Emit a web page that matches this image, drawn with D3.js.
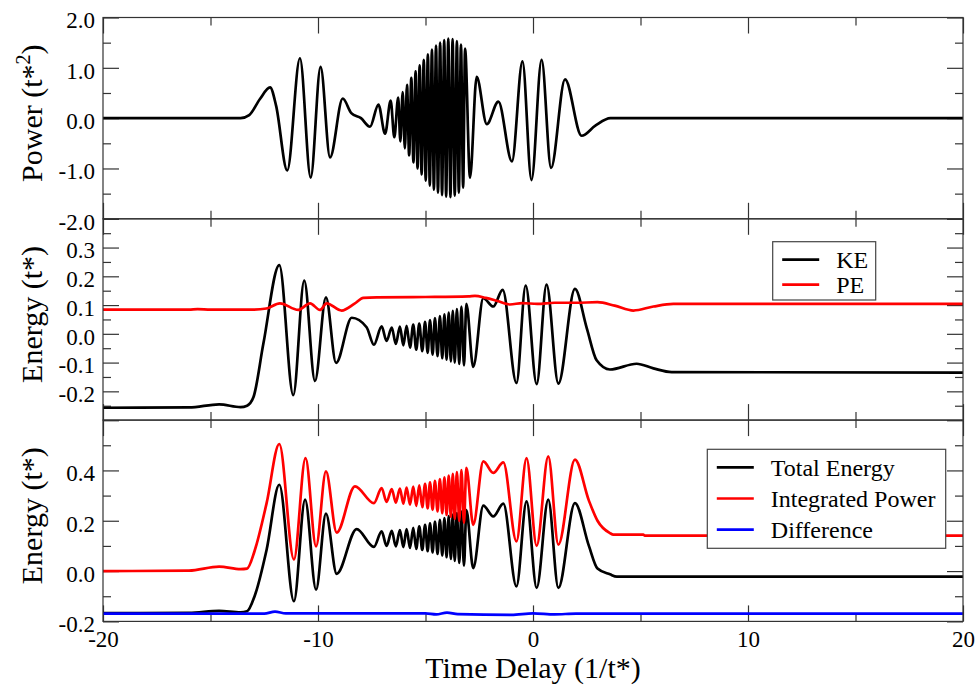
<!DOCTYPE html>
<html lang="en">
<head>
  <meta charset="UTF-8">
  <title>Power and energy vs time delay</title>
  <script src="https://cdn.jsdelivr.net/npm/d3@7"></script>
  <style>
    body { margin: 0; background: #fff; }
    svg text { font-family: "Liberation Serif", "Times New Roman", serif !important; fill: #000; }
  </style>
</head>
<body>
<svg id="chart" width="977" height="686"></svg>
<script>
// values as [time delay, value]
const power = [
  [-20,0],[-16,0],[-13.6,0],[-13.2,0.06],[-12.7,0.38],[-12.23,0.61],[-11.95,0.25],[-11.43,-1.04],
  [-10.84,1.19],[-10.34,-1.18],[-9.88,1.02],[-9.44,-0.78],[-8.85,0.39],[-8.45,0.1],[-8.0,0.0],
  [-7.58,-0.17],[-7.19,0.27],[-6.88,-0.31],[-6.62,0.35],[-6.45,-0.38],[-6.27,0.41],
  [-6.17,-0.46],[-6.06,0.52],[-5.96,-0.60],[-5.86,0.66],[-5.76,-0.74],[-5.66,0.80],[-5.56,-0.88],
  [-5.46,0.93],[-5.37,-1.00],[-5.27,1.05],[-5.18,-1.12],[-5.08,1.16],[-4.99,-1.24],[-4.89,1.27],
  [-4.80,-1.34],[-4.70,1.36],[-4.61,-1.42],[-4.51,1.44],[-4.42,-1.48],[-4.32,1.50],[-4.23,-1.53],
  [-4.13,1.55],[-4.04,-1.56],[-3.94,1.58],[-3.84,-1.57],[-3.74,1.57],[-3.64,-1.54],[-3.54,1.53],
  [-3.45,-1.48],[-3.35,1.46],[-3.25,-1.38],[-3.16,1.38],[-2.93,-1.18],[-2.62,0.82],[-2.15,-0.12],
  [-1.61,0.33],[-0.98,-0.86],[-0.49,1.13],[-0.07,-1.23],[0.40,1.16],[0.84,-0.99],[1.49,0.77],
  [2.26,-0.35],[2.9,-0.15],[3.6,0],[20,0]
];

const kinetic = [
  [-20,-0.257],[-16,-0.256],[-14.6,-0.245],[-13.6,-0.255],[-13.3,-0.25],[-13.0,-0.22],[-12.54,-0.034],
  [-11.8,0.239],[-11.15,-0.213],[-10.64,0.185],[-10.14,-0.164],[-9.63,0.127],[-9.16,-0.101],
  [-8.43,0.056],[-7.74,0.023],[-7.40,-0.038],
  [-7.04,0.026],[-6.81,-0.025],[-6.57,0.022],[-6.38,-0.035],[-6.19,0.025],[-6.03,-0.040],
  [-5.88,0.028],[-5.72,-0.048],[-5.57,0.032],[-5.43,-0.055],[-5.29,0.036],[-5.15,-0.060],
  [-5.02,0.042],[-4.90,-0.066],[-4.79,0.048],[-4.67,-0.072],[-4.56,0.055],[-4.44,-0.078],
  [-4.33,0.062],[-4.22,-0.085],[-4.12,0.068],[-4.02,-0.090],[-3.92,0.074],[-3.82,-0.096],
  [-3.73,0.080],[-3.64,-0.100],[-3.54,0.086],[-3.43,-0.105],[-3.33,0.095],[-3.21,-0.110],
  [-3.10,0.104],[-2.78,-0.115],[-2.31,0.124],[-1.85,0.095],[-1.41,0.153],[-0.77,-0.171],
  [-0.34,0.168],[0.17,-0.175],[0.63,0.171],[1.18,-0.173],[1.95,0.156],[2.5,0.02],[2.96,-0.092],
  [3.58,-0.124],[4.82,-0.104],[5.6,-0.12],[6.45,-0.133],[20,-0.135]
];

const potential = [
  [-20,0.084],[-16,0.084],[-15.6,0.086],[-15,0.084],[-13,0.084],[-12.4,0.088],[-11.77,0.106],
  [-10.92,0.083],[-10.37,0.106],[-9.91,0.083],[-9.6,0.106],[-8.9,0.081],[-8.3,0.105],[-7.89,0.125],
  [-7.27,0.127],[-5,0.128],[-3,0.13],[-2.7,0.132],[-2.2,0.125],[-1.69,0.115],[-1.07,0.102],
  [-0.5,0.107],[0.2,0.104],[1.0,0.108],[2,0.108],[3,0.11],[3.8,0.098],[4.67,0.081],[5.6,0.095],
  [6.53,0.104],[20,0.104]
];

const totalEnergy = [
  [-20,-0.167],[-16,-0.166],[-14.6,-0.158],[-13.6,-0.164],[-13.3,-0.16],[-12.95,-0.1],[-12.39,0.085],
  [-11.8,0.343],[-11.12,-0.12],[-10.6,0.284],[-10.09,-0.074],[-9.63,0.228],[-9.13,-0.011],
  [-8.2,0.167],[-7.4,0.096],
  [-7.04,0.158],[-6.81,0.100],[-6.57,0.160],[-6.38,0.098],[-6.19,0.163],[-6.03,0.095],
  [-5.88,0.167],[-5.72,0.092],[-5.57,0.172],[-5.43,0.088],[-5.29,0.178],[-5.15,0.084],
  [-5.02,0.184],[-4.90,0.079],[-4.79,0.190],[-4.67,0.074],[-4.56,0.197],[-4.44,0.068],
  [-4.33,0.204],[-4.22,0.062],[-4.12,0.211],[-4.02,0.055],[-3.92,0.218],[-3.82,0.048],
  [-3.73,0.224],[-3.64,0.040],[-3.54,0.230],[-3.43,0.032],[-3.33,0.236],[-3.21,0.022],
  [-3.10,0.242],[-2.78,0.012],[-2.31,0.26],[-1.85,0.217],[-1.38,0.268],[-0.77,-0.061],
  [-0.3,0.277],[0.17,-0.067],[0.71,0.284],[1.18,-0.067],[1.95,0.27],[2.6,0.1],[3.0,0.01],
  [3.58,-0.013],[3.9,-0.022],[20,-0.022]
];

const integratedPower = [
  [-20,0],[-16,0.002],[-14.6,0.018],[-13.6,0.008],[-13.3,0.01],[-12.95,0.08],[-12.39,0.27],
  [-11.8,0.505],[-11.12,0.046],[-10.58,0.449],[-10.09,0.098],[-9.63,0.396],[-9.13,0.153],
  [-8.28,0.337],[-7.4,0.27],
  [-7.04,0.330],[-6.81,0.275],[-6.57,0.326],[-6.38,0.272],[-6.19,0.328],[-6.03,0.268],
  [-5.88,0.332],[-5.72,0.264],[-5.57,0.336],[-5.43,0.259],[-5.29,0.341],[-5.15,0.254],
  [-5.02,0.347],[-4.90,0.249],[-4.79,0.353],[-4.67,0.243],[-4.56,0.359],[-4.44,0.237],
  [-4.33,0.366],[-4.22,0.230],[-4.12,0.372],[-4.02,0.223],[-3.92,0.379],[-3.82,0.215],
  [-3.73,0.386],[-3.64,0.207],[-3.54,0.393],[-3.43,0.199],[-3.33,0.401],[-3.21,0.192],
  [-3.10,0.410],[-2.78,0.184],[-2.31,0.436],[-1.85,0.39],[-1.38,0.432],[-0.77,0.118],
  [-0.3,0.449],[0.17,0.1],[0.71,0.456],[1.18,0.105],[1.95,0.443],[2.6,0.28],[3.0,0.2],
  [3.58,0.151],[3.74,0.145],[5.13,0.145],[5.2,0.141],[20,0.141]
];

const difference = [
  [-20,-0.169],[-12.5,-0.169],[-12,-0.161],[-11.5,-0.168],[-5,-0.168],[-4.5,-0.172],[-4,-0.165],
  [-3.5,-0.171],[-1,-0.174],[0,-0.168],[1,-0.172],[2,-0.169],[20,-0.169]
];

const xMajor = [-20, -10, 0, 10, 20];
const xMinor = [-15, -5, 5, 15];

const svg = d3.select("#chart");
const left = 103, right = 963, panelH = 201.3;
const serif = '"Liberation Serif", "Times New Roman", serif';

const x = d3.scaleLinear().domain([-20, 20]).range([left, right]);

const panels = [
  { top: 17.5, domain: [-2, 2], major: [-2, -1, 0, 1, 2], minor: [-1.5, -0.5, 0.5, 1.5],
    labels: [-2, -1, 0, 1, 2], title: "Power",
    series: [{ data: power, color: "#000" }] },
  { top: 218.8, domain: [-0.3, 0.4], major: [-0.3, -0.2, -0.1, 0, 0.1, 0.2, 0.3, 0.4],
    minor: [-0.25, -0.15, -0.05, 0.05, 0.15, 0.25, 0.35], labels: [-0.2, -0.1, 0, 0.1, 0.2, 0.3],
    title: "Energy",
    series: [{ data: kinetic, color: "#000" }, { data: potential, color: "#ff0000" }],
    legend: { x: 772.7, y: 241.7, w: 103, h: 58.3, rowH: 25, names: ["KE", "PE"] } },
  { top: 420.1, domain: [-0.2, 0.6], major: [-0.2, 0, 0.2, 0.4, 0.6], minor: [-0.1, 0.1, 0.3, 0.5],
    labels: [-0.2, 0, 0.2, 0.4], title: "Energy",
    series: [{ data: totalEnergy, color: "#000" }, { data: integratedPower, color: "#ff0000" },
             { data: difference, color: "#0000ff" }],
    legend: { x: 707.3, y: 449.3, w: 238.4, h: 99, rowH: 31.2,
              names: ["Total Energy", "Integrated Power", "Difference"] } }
];

const fmt = d => d.toFixed(1);

function innerTicks(g, axisFn, scale, values, size) {
  g.call(axisFn(scale).tickValues(values).tickSize(-size).tickFormat(""));
  g.select(".domain").remove();
  g.selectAll("line").attr("stroke", "#333").attr("stroke-width", 1.2);
}

panels.forEach((p, i) => {
  const top = p.top, bottom = top + panelH;
  const y = d3.scaleLinear().domain(p.domain).range([bottom, top]);
  const g = svg.append("g");

  const clipId = "clip" + i;
  svg.append("clipPath").attr("id", clipId)
    .append("rect").attr("x", left).attr("y", top).attr("width", right - left).attr("height", panelH);

  // ticks on all four sides, pointing inward
  [[d3.axisBottom, bottom], [d3.axisTop, top]].forEach(([fn, pos]) => {
    innerTicks(g.append("g").attr("transform", `translate(0,${pos})`), fn, x, xMajor, 16);
    innerTicks(g.append("g").attr("transform", `translate(0,${pos})`), fn, x, xMinor, 8);
  });
  [[d3.axisLeft, left], [d3.axisRight, right]].forEach(([fn, pos]) => {
    innerTicks(g.append("g").attr("transform", `translate(${pos},0)`), fn, y, p.major, 16);
    innerTicks(g.append("g").attr("transform", `translate(${pos},0)`), fn, y, p.minor, 8);
  });

  // y tick labels
  const yl = g.append("g").attr("transform", `translate(${left},0)`)
    .call(d3.axisLeft(y).tickValues(p.labels).tickSize(0).tickPadding(8).tickFormat(fmt))
    .attr("font-family", serif).attr("font-size", 23);
  yl.select(".domain").remove();
  yl.selectAll("text").attr("dy", "0.45em").attr("fill", "#000");

  // data lines
  const line = d3.line().x(d => x(d[0])).y(d => y(d[1])).curve(d3.curveMonotoneX);
  const lines = g.append("g").attr("clip-path", `url(#${clipId})`);
  p.series.forEach(s => {
    lines.append("path").datum(s.data)
      .attr("d", line).attr("fill", "none").attr("stroke", s.color)
      .attr("stroke-width", 2.7).attr("stroke-linejoin", "round").attr("stroke-linecap", "round");
  });

  // frame
  g.append("rect").attr("x", left).attr("y", top).attr("width", right - left).attr("height", panelH)
    .attr("fill", "none").attr("stroke", "#333").attr("stroke-width", 1.2);

  // y title
  const t = g.append("text")
    .attr("transform", `translate(42,${top + panelH / 2 - 5}) rotate(-90)`)
    .attr("text-anchor", "middle").attr("font-size", 30);
  t.append("tspan").text(p.title + " (t*");
  if (i === 0) {
    t.append("tspan").text("2").attr("font-size", 20).attr("dy", -12);
    t.append("tspan").text(")").attr("dy", 12);
  } else {
    t.append("tspan").text(")");
  }

  // legend
  if (p.legend) {
    const L = p.legend;
    const lg = g.append("g");
    lg.append("rect").attr("x", L.x).attr("y", L.y).attr("width", L.w).attr("height", L.h)
      .attr("fill", "#fff").attr("stroke", "#444").attr("stroke-width", 1.2);
    L.names.forEach((name, k) => {
      const ly = L.y + 18 + k * L.rowH;
      lg.append("line").attr("x1", L.x + 9.5).attr("x2", L.x + 46.5).attr("y1", ly).attr("y2", ly)
        .attr("stroke", p.series[k].color).attr("stroke-width", 2.7);
      lg.append("text").attr("x", L.x + 63.5).attr("y", ly + 8.5).attr("font-size", 24).text(name);
    });
  }

  // x tick labels on the bottom panel only
  if (i === panels.length - 1) {
    const xl = g.append("g").attr("transform", `translate(0,${bottom})`)
      .call(d3.axisBottom(x).tickValues(xMajor).tickSize(0).tickPadding(9).tickFormat(d => d))
      .attr("font-family", serif).attr("font-size", 23);
    xl.select(".domain").remove();
    xl.selectAll("text").attr("fill", "#000");
  }
});

svg.append("text").attr("x", (left + right) / 2).attr("y", 678)
  .attr("text-anchor", "middle").attr("font-size", 30).text("Time Delay (1/t*)");
</script>
</body>
</html>
